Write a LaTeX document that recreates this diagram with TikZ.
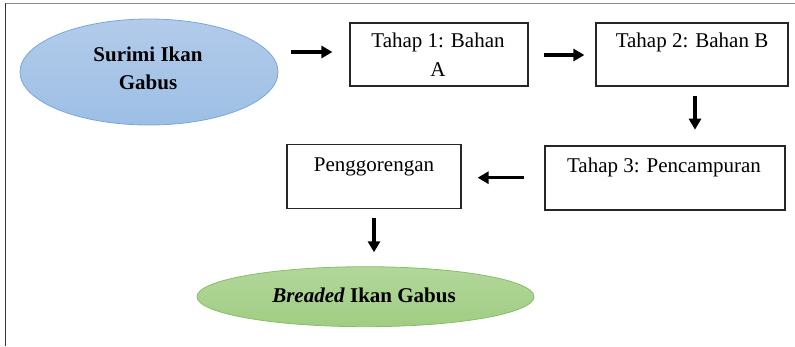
\documentclass[tikz,border=0pt]{standalone}
\usepackage{fontspec}
\setmainfont{Liberation Serif}
\usetikzlibrary{shapes.geometric,arrows.meta}
\definecolor{blueTop}{HTML}{B2CBEA}
\definecolor{blueBot}{HTML}{9DBFE5}
\definecolor{blueEdge}{HTML}{7AA7DA}
\definecolor{greenTop}{HTML}{B2D79A}
\definecolor{greenBot}{HTML}{A0CD83}
\definecolor{greenEdge}{HTML}{88BE66}
\begin{document}
\begin{tikzpicture}[x=1pt,y=-1pt,
  every node/.style={font=\fontsize{21}{29}\selectfont},
  stepbox/.style={draw=black!85,line width=1.2pt,rectangle,inner sep=0pt},
  label/.style={anchor=base,align=center,inner sep=0pt},
  blueoval/.style={ellipse,draw=blueEdge,line width=0.8pt,top color=blueTop,bottom color=blueBot,inner sep=0pt},
  greenoval/.style={ellipse,draw=greenEdge,line width=0.8pt,top color=greenTop,bottom color=greenBot,inner sep=0pt},
  arr/.style={line width=3.4pt,-{Triangle[length=11pt,width=12pt]}}]
\useasboundingbox (0,0) rectangle (795,346);
% page frame (top and left rules only)
\draw[black!45,line width=0.9pt] (5.5,3) -- (795,3);
\draw[black!80,line width=1pt] (5.5,3) -- (5.5,346);

% nodes (a multi-line label is placed by the baseline of its last line)
\node[blueoval,minimum width=258pt,minimum height=106pt] (src) at (149,72) {};
\node[label,font=\fontsize{21}{27.6}\selectfont\bfseries] (srct) at (148,89.3) {Surimi Ikan\\Gabus};

\node[stepbox,minimum width=178pt,minimum height=63pt] (s1) at (439,54.5) {};
\node[label] (s1t) at (438,76) {Tahap 1: Bahan\\A};

\node[stepbox,minimum width=192pt,minimum height=63pt] (s2) at (692,54.5) {};
\node[label] (s2t) at (692,47) {Tahap 2: Bahan B};

\node[stepbox,minimum width=240pt,minimum height=64pt] (s3) at (665,178) {};
\node[label] (s3t) at (664,172.7) {Tahap 3: Pencampuran};

\node[stepbox,minimum width=174pt,minimum height=63.5pt] (fry) at (374,176.5) {};
\node[label] (fryt) at (374,171.7) {Penggorengan};

\node[greenoval,minimum width=337pt,minimum height=60pt] (out) at (365.5,296.7) {};
\node[label,font=\fontsize{21}{27}\selectfont\bfseries] (outt) at (364,302) {\textit{Breaded} Ikan Gabus};

% connectors
\draw[arr] ([xshift=13pt]src.east |- 0,52) -- ([xshift=-17pt]s1.west |- 0,52);
\draw[arr] ([xshift=15pt]s1.east |- 0,55) -- ([xshift=-11pt]s2.west |- 0,55);
\draw[arr] ([yshift=-9pt]s2.south -| 695,0) -- ([yshift=15.7pt]s3.north -| 695,0);
\draw[arr] ([xshift=-20pt]s3.west |- 0,177.7) -- ([xshift=16pt]fry.east |- 0,177.7);
\draw[arr] ([yshift=-8.7pt]fry.south) -- ([yshift=14pt]out.north -| fry.south);
\end{tikzpicture}
\end{document}
